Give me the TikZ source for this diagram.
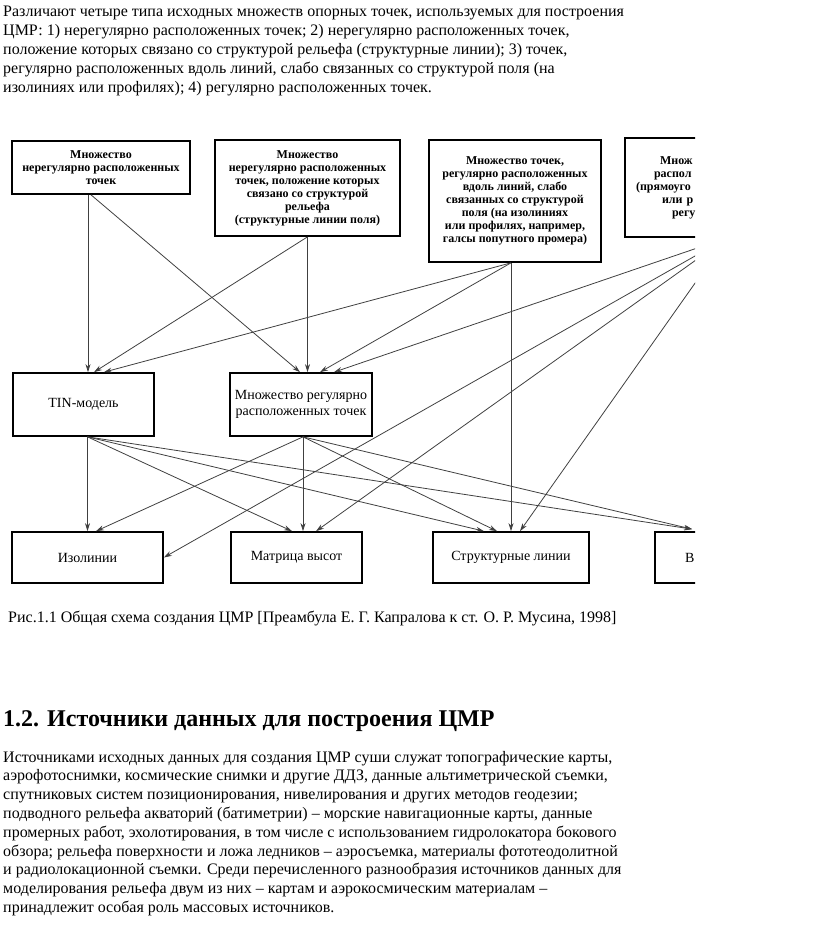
\documentclass[tikz,border=0pt]{standalone}
\usepackage{fontspec}
\setmainfont{Liberation Serif}
\usetikzlibrary{arrows.meta}
\begin{document}
\begin{tikzpicture}[x=1pt,y=-1pt,
  txt/.style={anchor=base west, inner sep=0, font=\fontsize{16}{18.8}\selectfont},
  headtxt/.style={anchor=base west, inner sep=0, font=\bfseries\fontsize{24}{28}\selectfont},
  topbox/.style={draw, line width=1.7pt, align=center, inner sep=0, font=\bfseries\fontsize{12}{13}\selectfont},
  midbox/.style={draw, line width=1.7pt, align=center, inner sep=0, font=\fontsize{14}{15.5}\selectfont},
  conn/.style={draw=black!75, line width=0.8pt, -{Stealth[length=8pt,width=5pt]}},
]
\useasboundingbox (0,0) rectangle (816,936);

% top paragraph
\node[txt] (p1) at (3,17) {Различают четыре типа исходных множеств опорных точек, используемых для построения};
\node[txt] (p2) at (3,35.8) {ЦМР: 1) нерегулярно расположенных точек; 2) нерегулярно расположенных точек,};
\node[txt] (p3) at (3,54.6) {положение которых связано со структурой рельефа (структурные линии); 3) точек,};
\node[txt] (p4) at (3,73.4) {регулярно расположенных вдоль линий, слабо связанных со структурой поля (на};
\node[txt] (p5) at (3,92.2) {изолиниях или профилях); 4) регулярно расположенных точек.};

% diagram
\begin{scope}
\clip (0,120) rectangle (695,600);
\node[topbox, minimum width=178pt, minimum height=53pt] (b1) at (101,167.5) {Множество\\нерегулярно расположенных\\точек};
\node[topbox, minimum width=185pt, minimum height=96pt] (b2) at (307.5,188) {Множество\\нерегулярно расположенных\\точек, положение которых\\связано со структурой\\рельефа\\(структурные линии поля)};
\node[topbox, minimum width=172pt, minimum height=122pt] (b3) at (515,201) {Множество точек,\\регулярно расположенных\\вдоль линий, слабо\\связанных со структурой\\поля (на изолиниях\\или профилях, например,\\галсы попутного промера)};
\node[topbox, align=left, text width=204pt, minimum height=99pt] (b4) at (727,187.5) {\hspace*{35pt}Множ\\\hspace*{29pt}распол\\\hspace*{11pt}(прямоуго\\\hspace*{37pt}или р\\\hspace*{47pt}регу};

\node[midbox, minimum width=141pt, minimum height=63pt] (tin) at (83.5,404.5) {TIN-модель};
\node[midbox, minimum width=142pt, minimum height=63pt] (reg) at (301,404.5) {Множество регулярно\\расположенных точек};

\node[midbox, minimum width=151pt, minimum height=51pt] (iso) at (87.5,557.5) {Изолинии};
\node[midbox, minimum width=131pt, minimum height=51pt] (mat) at (296.5,557.5) {\raisebox{-4pt}{Матрица высот}};
\node[midbox, minimum width=156pt, minimum height=51pt] (str) at (511,557.5) {Структурные линии};
\node[midbox, align=left, text width=70pt, inner xsep=30pt, minimum height=51pt] (vbx) at (720,557.5) {В};
\coordinate (vin) at ([xshift=38pt,yshift=2pt]vbx.north west);

% top -> middle
\draw[conn] ([xshift=-13pt]b1.south) -- ([xshift=4.5pt]tin.north);
\draw[conn] ([xshift=-10pt]b1.south) -- ([xshift=-1pt]reg.north);
\draw[conn] (b2.south) -- ([xshift=10.5pt]tin.north);
\draw[conn] (b2.south) -- ([xshift=6.5pt]reg.north);
\draw[conn] ([xshift=-4pt]b3.south) -- ([xshift=20.5pt]tin.north);
\draw[conn] ([xshift=-4pt]b3.south) -- ([xshift=19pt]reg.north);
\draw[conn] ([xshift=-4pt]b3.south) -- (str.north);
\draw[conn] (b4.south) -- ([xshift=33pt]reg.north);
\draw[conn] (b4.south) -- (iso.east);
\draw[conn] (b4.south) -- ([xshift=19.5pt]mat.north);
\draw[conn] (b4.south) -- ([xshift=9pt]str.north);

% middle -> bottom
\draw[conn] ([xshift=4pt]tin.south) -- (iso.north);
\draw[conn] ([xshift=4pt]tin.south) -- ([xshift=-4.5pt]mat.north);
\draw[conn] ([xshift=4pt]tin.south) -- ([xshift=-27pt]str.north);
\draw[conn] ([xshift=4pt]tin.south) -- (vin);
\draw[conn] ([xshift=2pt]reg.south) -- ([xshift=8.5pt]iso.north);
\draw[conn] ([xshift=2pt]reg.south) -- ([xshift=6.5pt]mat.north);
\draw[conn] ([xshift=2pt]reg.south) -- ([xshift=-14pt]str.north);
\draw[conn] ([xshift=2pt]reg.south) -- (vin);
\end{scope}

% caption and section
\node[txt] (cap) at (8,622) {Рис.1.1 Общая схема создания ЦМР [Преамбула Е. Г. Капралова к ст. О. Р. Мусина, 1998]};
\node[headtxt] (head) at (3,726) {1.2. Источники данных для построения ЦМР};

\node[txt] (q1) at (3,762) {Источниками исходных данных для создания ЦМР суши служат топографические карты,};
\node[txt] (q2) at (3,780.8) {аэрофотоснимки, космические снимки и другие ДДЗ, данные альтиметрической съемки,};
\node[txt] (q3) at (3,799.6) {спутниковых систем позиционирования, нивелирования и других методов геодезии;};
\node[txt] (q4) at (3,818.4) {подводного рельефа акваторий (батиметрии) – морские навигационные карты, данные};
\node[txt] (q5) at (3,837.2) {промерных работ, эхолотирования, в том числе с использованием гидролокатора бокового};
\node[txt] (q6) at (3,856) {обзора; рельефа поверхности и ложа ледников – аэросъемка, материалы фототеодолитной};
\node[txt] (q7) at (3,874.8) {и радиолокационной съемки. Среди перечисленного разнообразия источников данных для};
\node[txt] (q8) at (3,893.6) {моделирования рельефа двум из них – картам и аэрокосмическим материалам –};
\node[txt] (q9) at (3,912.4) {принадлежит особая роль массовых источников.};
\end{tikzpicture}
\end{document}
